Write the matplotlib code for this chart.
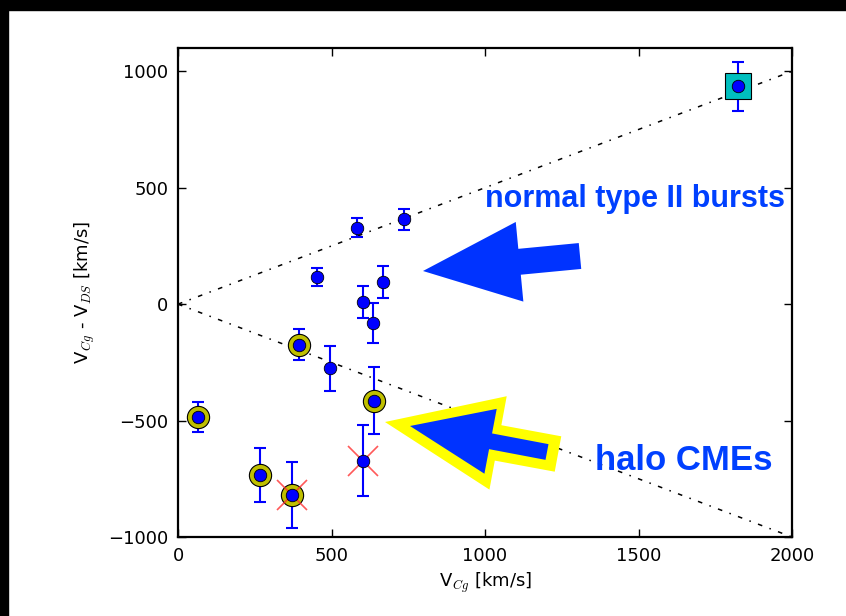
import matplotlib.pyplot as plt
import matplotlib.patches as mpatches
import matplotlib.transforms as mtransforms
import numpy as np

# shock speed V_Cg and V_Cg - V_DS with errors
vCg = [1823, 737, 583, 452, 604, 635, 667, 395, 495, 639, 64, 267, 371, 601]
dV = [935, 364, 329, 117, 9, -81, 95, -174, -275, -414, -485, -733, -819, -672]
dVErr = [105, 45, 40, 40, 69, 87, 68, 67, 96, 145, 64, 117, 143, 151]

haloIdx = [7, 9, 10, 11, 12]   # yellow circles
crossIdx = [12, 13]            # red crosses
squareIdx = [0]                # cyan square

lineX = [0, 2000]
upperLine = [0, 1000]
lowerLine = [0, -1000]

xTicks = [0, 500, 1000, 1500, 2000]
yTicks = [-1000, -500, 0, 500, 1000]

W, H = 846, 616
plt.rcParams['mathtext.fontset'] = 'cm'

fig = plt.figure(figsize=(W / 100, H / 100), dpi=100)
ax = fig.add_axes([178 / W, 1 - 537 / H, (792 - 178) / W, (537 - 48) / H])

vCg = np.array(vCg)
dV = np.array(dV)
dVErr = np.array(dVErr)

ax.plot(lineX, upperLine, 'k-.', lw=1.1, dashes=(3, 5, 1, 5), zorder=1)
ax.plot(lineX, lowerLine, 'k-.', lw=1.1, dashes=(3, 5, 1, 5), zorder=1)

ax.errorbar(vCg, dV, yerr=dVErr, fmt='none', ecolor='#0000ff', elinewidth=1.5,
            capsize=4, capthick=1.5, zorder=2)
ax.plot(vCg[haloIdx], dV[haloIdx], 'o', ms=16, mfc=(0.75, 0.75, 0), mec='k', mew=0.8,
        ls='none', zorder=3)
ax.plot(vCg[squareIdx], dV[squareIdx], 's', ms=19, mfc=(0, 0.75, 0.75), mec='k', mew=0.8,
        ls='none', zorder=3)
ax.plot(vCg[crossIdx], dV[crossIdx], 'x', ms=21, mec='#ff3030', mew=1.2, alpha=0.8,
        ls='none', zorder=4)
ax.plot(vCg, dV, 'o', ms=9, mfc='#0000ff', mec='k', mew=0.6, ls='none', zorder=5)

ax.set_xlim(0, 2000)
ax.set_ylim(-1000, 1100)
ax.set_xticks(xTicks)
ax.set_yticks(yTicks)
ax.tick_params(direction='in', length=6, width=1, top=True, right=True,
               labelsize=13, pad=7)
for s in ax.spines.values():
    s.set_linewidth(1.6)

ax.set_xlabel('V$_{Cg}$ [km/s]', fontsize=13)
ax.set_ylabel('V$_{Cg}$ - V$_{DS}$ [km/s]', fontsize=13, labelpad=8)

# overlay drawn in pixel coordinates (origin at top left)
pix = mtransforms.Affine2D().scale(1, -1).translate(0, H) + mtransforms.IdentityTransform()

fig.add_artist(mpatches.Rectangle((0, 0), W, 10, transform=pix, color='k'))
fig.add_artist(mpatches.Rectangle((0, 0), 8, H, transform=pix, color='k'))

fig.add_artist(mpatches.FancyArrow(580, 256, -157, 15, width=26, head_width=80,
                                   head_length=97, length_includes_head=True,
                                   color='#0033ff', lw=0, transform=pix))
fig.add_artist(mpatches.FancyArrow(558, 454, -173, -32, width=36, head_width=95,
                                   head_length=115, length_includes_head=True,
                                   color='#ffff00', lw=0, transform=pix))
fig.add_artist(mpatches.FancyArrow(547, 452, -137, -26, width=16, head_width=66,
                                   head_length=82, length_includes_head=True,
                                   color='#0033ff', lw=0, transform=pix))

fig.text(635, 199, 'normal type II bursts', transform=pix, ha='center', va='center',
         fontsize=22, fontweight='bold', color='#0040ff', family='Liberation Sans')
fig.text(684, 461, 'halo CMEs', transform=pix, ha='center', va='center',
         fontsize=25, fontweight='bold', color='#0040ff', family='Liberation Sans')

fig.savefig('out.png', dpi=100)
